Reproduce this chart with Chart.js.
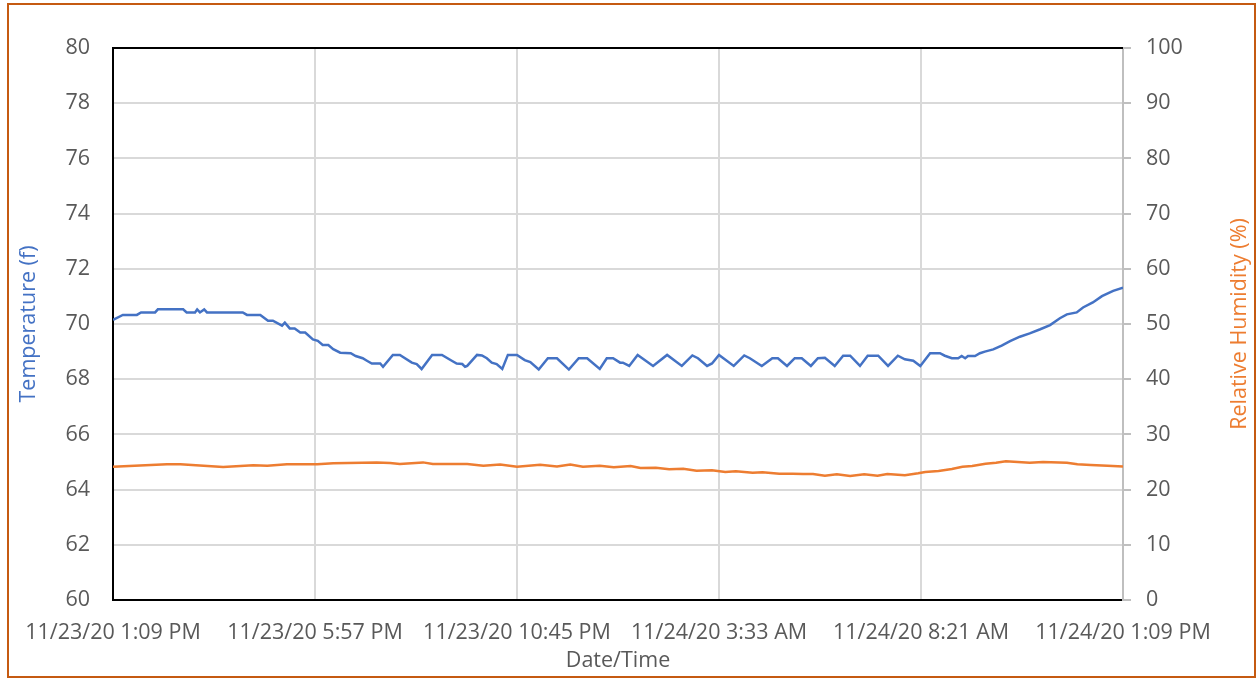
<!DOCTYPE html>
<html>
<head>
<meta charset="utf-8">
<script src="https://cdn.jsdelivr.net/npm/chart.js@4"></script>
<style>
  body { margin: 0; background: #fff; }
</style>
</head>
<body>
<canvas id="grafica" width="1257" height="679"></canvas>
<script>
// Datos (minutos desde 11/23/20 1:09 PM)
const etiquetasX = ["11/23/20 1:09 PM", "11/23/20 5:57 PM", "11/23/20 10:45 PM", "11/24/20 3:33 AM", "11/24/20 8:21 AM", "11/24/20 1:09 PM"]

const tempMinutos = [
    0, 14, 34, 40, 60, 64, 100, 105, 117, 120,
    124, 130, 134, 185, 191, 210, 221, 228, 241, 245,
    252, 259, 267, 274, 285, 292, 299, 307, 314, 324,
    339, 346, 356, 362, 369, 381, 385, 399, 409, 426,
    433, 440, 455, 469, 483, 490, 498, 502, 505, 519,
    526, 533, 540, 547, 555, 563, 576, 587, 595, 607,
    620, 633, 650, 664, 676, 694, 704, 713, 723, 727,
    736, 748, 770, 790, 811, 826, 834, 847, 854, 864,
    885, 900, 908, 925, 940, 948, 961, 972, 982, 995,
    1005, 1015, 1029, 1041, 1051, 1065, 1076, 1091, 1105, 1119,
    1129, 1141, 1151, 1165, 1179, 1186, 1196, 1205, 1210, 1215,
    1219, 1229, 1236, 1243, 1255, 1267, 1279, 1293, 1307, 1322,
    1336, 1350, 1360, 1374, 1383, 1397, 1410, 1426, 1440
]
const tempValores = [
    70.15, 70.33, 70.33, 70.42, 70.42, 70.53, 70.53, 70.42, 70.42, 70.53,
    70.42, 70.53, 70.42, 70.42, 70.33, 70.33, 70.12, 70.12, 69.94, 70.05,
    69.84, 69.84, 69.69, 69.69, 69.44, 69.39, 69.24, 69.24, 69.09, 68.96,
    68.94, 68.84, 68.76, 68.67, 68.57, 68.57, 68.45, 68.88, 68.88, 68.60,
    68.55, 68.37, 68.88, 68.88, 68.67, 68.57, 68.55, 68.45, 68.48, 68.88,
    68.86, 68.76, 68.60, 68.55, 68.37, 68.88, 68.88, 68.69, 68.62, 68.35,
    68.76, 68.76, 68.35, 68.76, 68.76, 68.37, 68.76, 68.76, 68.60, 68.60,
    68.48, 68.88, 68.48, 68.88, 68.48, 68.86, 68.76, 68.48, 68.57, 68.88,
    68.48, 68.86, 68.76, 68.48, 68.76, 68.76, 68.48, 68.76, 68.76, 68.48,
    68.76, 68.78, 68.48, 68.85, 68.85, 68.48, 68.85, 68.85, 68.48, 68.85,
    68.72, 68.67, 68.48, 68.94, 68.94, 68.85, 68.76, 68.76, 68.84, 68.76,
    68.84, 68.84, 68.94, 69.00, 69.08, 69.22, 69.38, 69.54, 69.66, 69.81,
    69.96, 70.21, 70.35, 70.42, 70.60, 70.78, 71.01, 71.20, 71.32
]

const humMinutos = [
    0, 77, 96, 157, 200, 220, 248, 291, 314, 376,
    395, 409, 442, 456, 505, 528, 552, 576, 609, 633,
    652, 670, 694, 714, 738, 752, 774, 793, 813, 832,
    854, 873, 888, 912, 926, 950, 969, 984, 998, 1015,
    1032, 1051, 1071, 1090, 1104, 1129, 1148, 1158, 1177, 1196,
    1211, 1225, 1244, 1259, 1273, 1307, 1326, 1360, 1375, 1394,
    1418, 1440
]
const humValores = [
    24.15, 24.58, 24.6, 24.1, 24.4, 24.3, 24.58, 24.58, 24.76, 24.93,
    24.82, 24.64, 24.93, 24.64, 24.64, 24.33, 24.55, 24.15, 24.5, 24.2,
    24.55, 24.15, 24.34, 24.03, 24.28, 23.91, 23.97, 23.67, 23.79, 23.43,
    23.49, 23.19, 23.31, 23.07, 23.13, 22.89, 22.89, 22.83, 22.83, 22.52,
    22.77, 22.46, 22.77, 22.52, 22.83, 22.58, 22.95, 23.19, 23.37, 23.73,
    24.15, 24.28, 24.7, 24.88, 25.12, 24.88, 25.0, 24.88, 24.58, 24.46,
    24.34, 24.2
]

// Estilos
const fuente = { family: "'Open Sans', 'Noto Sans', sans-serif", size: 21.5 }
const gris = "#595959"
const gridGris = "#D9D9D9"

// Marco naranja, borde superior y titulo derecho
const marcoPlugin = {
    id: "marco",
    afterDraw(chart) {
        const ctx = chart.ctx
        const area = chart.chartArea
        ctx.save()
        ctx.strokeStyle = "#000"
        ctx.lineWidth = 2
        ctx.beginPath()
        ctx.moveTo(area.left, area.top)
        ctx.lineTo(area.right, area.top)
        ctx.stroke()

        ctx.strokeStyle = "#C55A11"
        ctx.lineWidth = 2
        ctx.strokeRect(8, 4, 1247, 673)

        ctx.translate(1240, (area.top + area.bottom) / 2)
        ctx.rotate(-Math.PI / 2)
        ctx.fillStyle = "#ED7D31"
        ctx.font = "21.5px 'Open Sans', 'Noto Sans', sans-serif"
        ctx.textAlign = "center"
        ctx.textBaseline = "middle"
        ctx.fillText("Relative Humidity (%)", 0, 0)
        ctx.restore()
    }
}

function renderGrafica() {
    const ctx = document.querySelector("#grafica").getContext("2d")
    const config = {
        type: "line",
        data: {
            datasets: [{
                label: "Temperature (f)",
                data: tempMinutos.map((m, i) => ({ x: m, y: tempValores[i] })),
                borderColor: "#4472C4",
                borderWidth: 2.5,
                pointRadius: 0,
                tension: 0,
                yAxisID: "y"
            }, {
                label: "Relative Humidity (%)",
                data: humMinutos.map((m, i) => ({ x: m, y: humValores[i] })),
                borderColor: "#ED7D31",
                borderWidth: 2.5,
                pointRadius: 0,
                tension: 0,
                yAxisID: "y1"
            }]
        },
        options: {
            responsive: false,
            devicePixelRatio: 1,
            animation: false,
            layout: { padding: { top: 48, left: 0, right: 0, bottom: 0 } },
            plugins: { legend: { display: false }, tooltip: { enabled: false } },
            scales: {
                x: {
                    type: "linear",
                    min: 0,
                    max: 1440,
                    afterFit: s => { s.height = 79 },
                    ticks: {
                        stepSize: 288,
                        autoSkip: false,
                        maxRotation: 0,
                        padding: 20,
                        color: gris,
                        font: fuente,
                        callback: (v, i) => etiquetasX[i]
                    },
                    grid: { color: gridGris, lineWidth: 2, drawTicks: false },
                    border: { color: "#000", width: 2 },
                    title: { display: true, text: "Date/Time", color: gris, font: fuente, padding: { top: 0, bottom: 5 } }
                },
                y: {
                    position: "left",
                    min: 60,
                    max: 80,
                    afterFit: s => { s.width = 113 },
                    ticks: { stepSize: 2, padding: 23, color: gris, font: fuente },
                    grid: { color: gridGris, lineWidth: 2, drawTicks: false },
                    border: { color: "#000", width: 2 },
                    title: { display: true, text: "Temperature (f)", color: "#4472C4", font: fuente, padding: { top: 16, bottom: 0 } }
                },
                y1: {
                    position: "right",
                    min: 0,
                    max: 100,
                    afterFit: s => { s.width = 134 },
                    ticks: { stepSize: 10, padding: 15, color: gris, font: fuente },
                    grid: { drawOnChartArea: false, drawTicks: true, tickLength: 8, color: "#BFBFBF", lineWidth: 2 },
                    border: { color: "#BFBFBF", width: 2 }
                }
            }
        },
        plugins: [marcoPlugin]
    }
    new Chart(ctx, config)
}

renderGrafica()
</script>
</body>
</html>
